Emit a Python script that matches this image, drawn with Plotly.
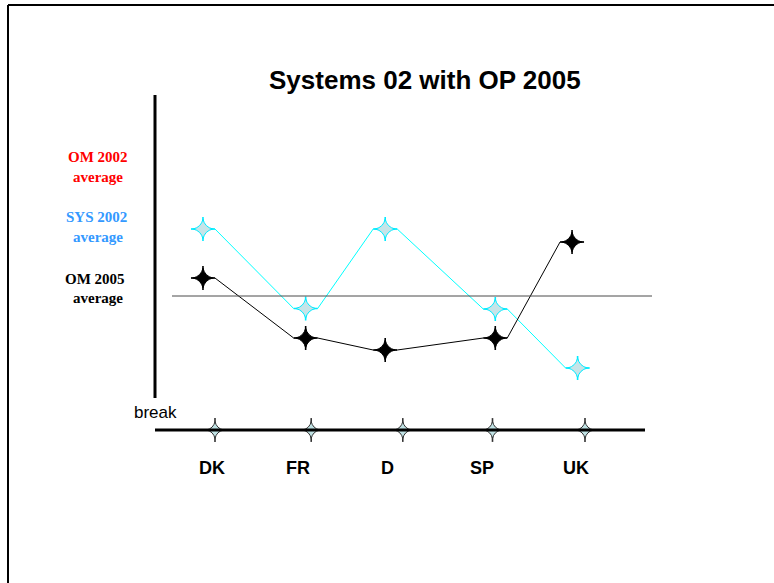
import plotly.graph_objects as go

# Countries along the bottom axis
countries = ["DK", "FR", "D", "SP", "UK"]
country_pos = [0.0, 1.04, 2.03, 3.0, 4.0]          # stars on the baseline
label_pos = [-0.03, 0.90, 1.86, 2.89, 3.90]        # country label centres

# Series, relative to the OM 2005 average (= 0)
sys2002_x = [-0.13, 0.98, 1.84, 3.03, 3.92]
sys2002_y = [6.7, -1.25, 6.7, -1.3, -7.2]
om2005_x = [-0.13, 0.98, 1.84, 3.03, 3.86]
om2005_y = [1.8, -4.2, -5.4, -4.2, 5.4]

om2005_average = 0.0
baseline_y = -13.4

# figure geometry (px) and the data<->pixel mapping of the drawing area
W, H = 774, 583
X0_PX, X_UNIT = 215.0, 92.5      # x=0 at 215 px, one unit = 92.5 px
Y0_PX, Y_UNIT = 296.0, 10.0      # y=0 at 296 px, one unit = 10 px
x_range = [-X0_PX / X_UNIT, (W - X0_PX) / X_UNIT]
y_range = [(Y0_PX - H) / Y_UNIT, Y0_PX / Y_UNIT]
ARM = 12 / X_UNIT                # half width of a star marker in x units


def px_x(p):
    return (p - X0_PX) / X_UNIT


def px_y(p):
    return (Y0_PX - p) / Y_UNIT


def arm_path(xs, ys):
    """Connect the star tips: each point becomes a short flat segment."""
    px, py = [], []
    for x, y in zip(xs, ys):
        px += [x - ARM, x + ARM]
        py += [y, y]
    return px, py


def star(fig, xs, ys, fill, edge, body=11, arm=17, vert_only=False):
    """Four-point star: a small concave body plus thin arms."""
    fig.add_trace(go.Scatter(
        x=xs, y=ys, mode="markers", hoverinfo="skip",
        marker=dict(symbol="line-ns" if vert_only else "cross-thin", size=arm,
                    line=dict(color=edge, width=1.6))))
    fig.add_trace(go.Scatter(
        x=xs, y=ys, mode="markers", hoverinfo="skip",
        marker=dict(symbol="star-diamond", size=body, color=fill,
                    line=dict(color=edge, width=1))))


fig = go.Figure()

# connecting lines (tip to tip)
lx, ly = arm_path(sys2002_x, sys2002_y)
fig.add_trace(go.Scatter(x=lx, y=ly, mode="lines",
                         line=dict(color="#00ffff", width=1), hoverinfo="skip"))
lx, ly = arm_path(om2005_x, om2005_y)
fig.add_trace(go.Scatter(x=lx, y=ly, mode="lines",
                         line=dict(color="#000000", width=1), hoverinfo="skip"))

# star markers
star(fig, sys2002_x, sys2002_y, "#c6e4e8", "#00eaff", body=14, arm=17)
star(fig, om2005_x, om2005_y, "#000000", "#000000", body=14, arm=17)

# average line and the two axis strokes
fig.add_shape(type="line", x0=px_x(172), x1=px_x(652), y0=om2005_average,
              y1=om2005_average, line=dict(color="#4a4a4a", width=1))
fig.add_shape(type="line", x0=px_x(155), x1=px_x(155), y0=px_y(95),
              y1=px_y(398), line=dict(color="#000000", width=3))
fig.add_shape(type="line", x0=px_x(155), x1=px_x(645), y0=baseline_y,
              y1=baseline_y, line=dict(color="#000000", width=3))

# baseline stars
star(fig, country_pos, [baseline_y] * len(country_pos), "#c0e2e4", "#333333",
     body=12, arm=17, vert_only=True)

# frame (top and left)
fig.add_shape(type="line", xref="paper", yref="paper", x0=8 / W, x1=1,
              y0=1 - 5 / H, y1=1 - 5 / H, line=dict(color="#000000", width=2))
fig.add_shape(type="line", xref="paper", yref="paper", x0=8 / W, x1=8 / W,
              y0=0, y1=1 - 5 / H, line=dict(color="#000000", width=2))

ann = []
ann.append(dict(text="<b>Systems 02 with OP 2005</b>", x=425 / W, y=1 - 80 / H,
                xref="paper", yref="paper", showarrow=False,
                xanchor="center", yanchor="middle",
                font=dict(family="Liberation Sans, Arial", size=26, color="#000000")))
ann.append(dict(text="break", x=px_x(155), y=px_y(412), showarrow=False,
                xanchor="center", yanchor="middle",
                font=dict(family="Liberation Sans, Arial", size=17, color="#000000")))
for name, x in zip(countries, label_pos):
    ann.append(dict(text=f"<b>{name}</b>", x=x, y=px_y(468), showarrow=False,
                    xanchor="center", yanchor="middle",
                    font=dict(family="Liberation Sans, Arial", size=18,
                              color="#000000")))

side = [("OM 2002", "#ff0000", 98, 157, 177),
        ("SYS 2002", "#3399ff", 96, 217, 237),
        ("OM 2005", "#000000", 95, 279, 298)]
for txt, col, xc, y1, y2 in side:
    for t, yy, xx in ((txt, y1, xc), ("average", y2, 98)):
        ann.append(dict(text=f"<b>{t}</b>", x=xx / W, y=1 - yy / H,
                        xref="paper", yref="paper", showarrow=False,
                        xanchor="center", yanchor="middle",
                        font=dict(family="Liberation Serif, Times New Roman",
                                  size=15, color=col)))

fig.update_layout(
    width=W, height=H, margin=dict(l=0, r=0, t=0, b=0),
    paper_bgcolor="#ffffff", plot_bgcolor="#ffffff", showlegend=False,
    xaxis=dict(range=x_range, visible=False, fixedrange=True),
    yaxis=dict(range=y_range, visible=False, fixedrange=True),
    annotations=ann,
)

fig.write_html("out.html")
